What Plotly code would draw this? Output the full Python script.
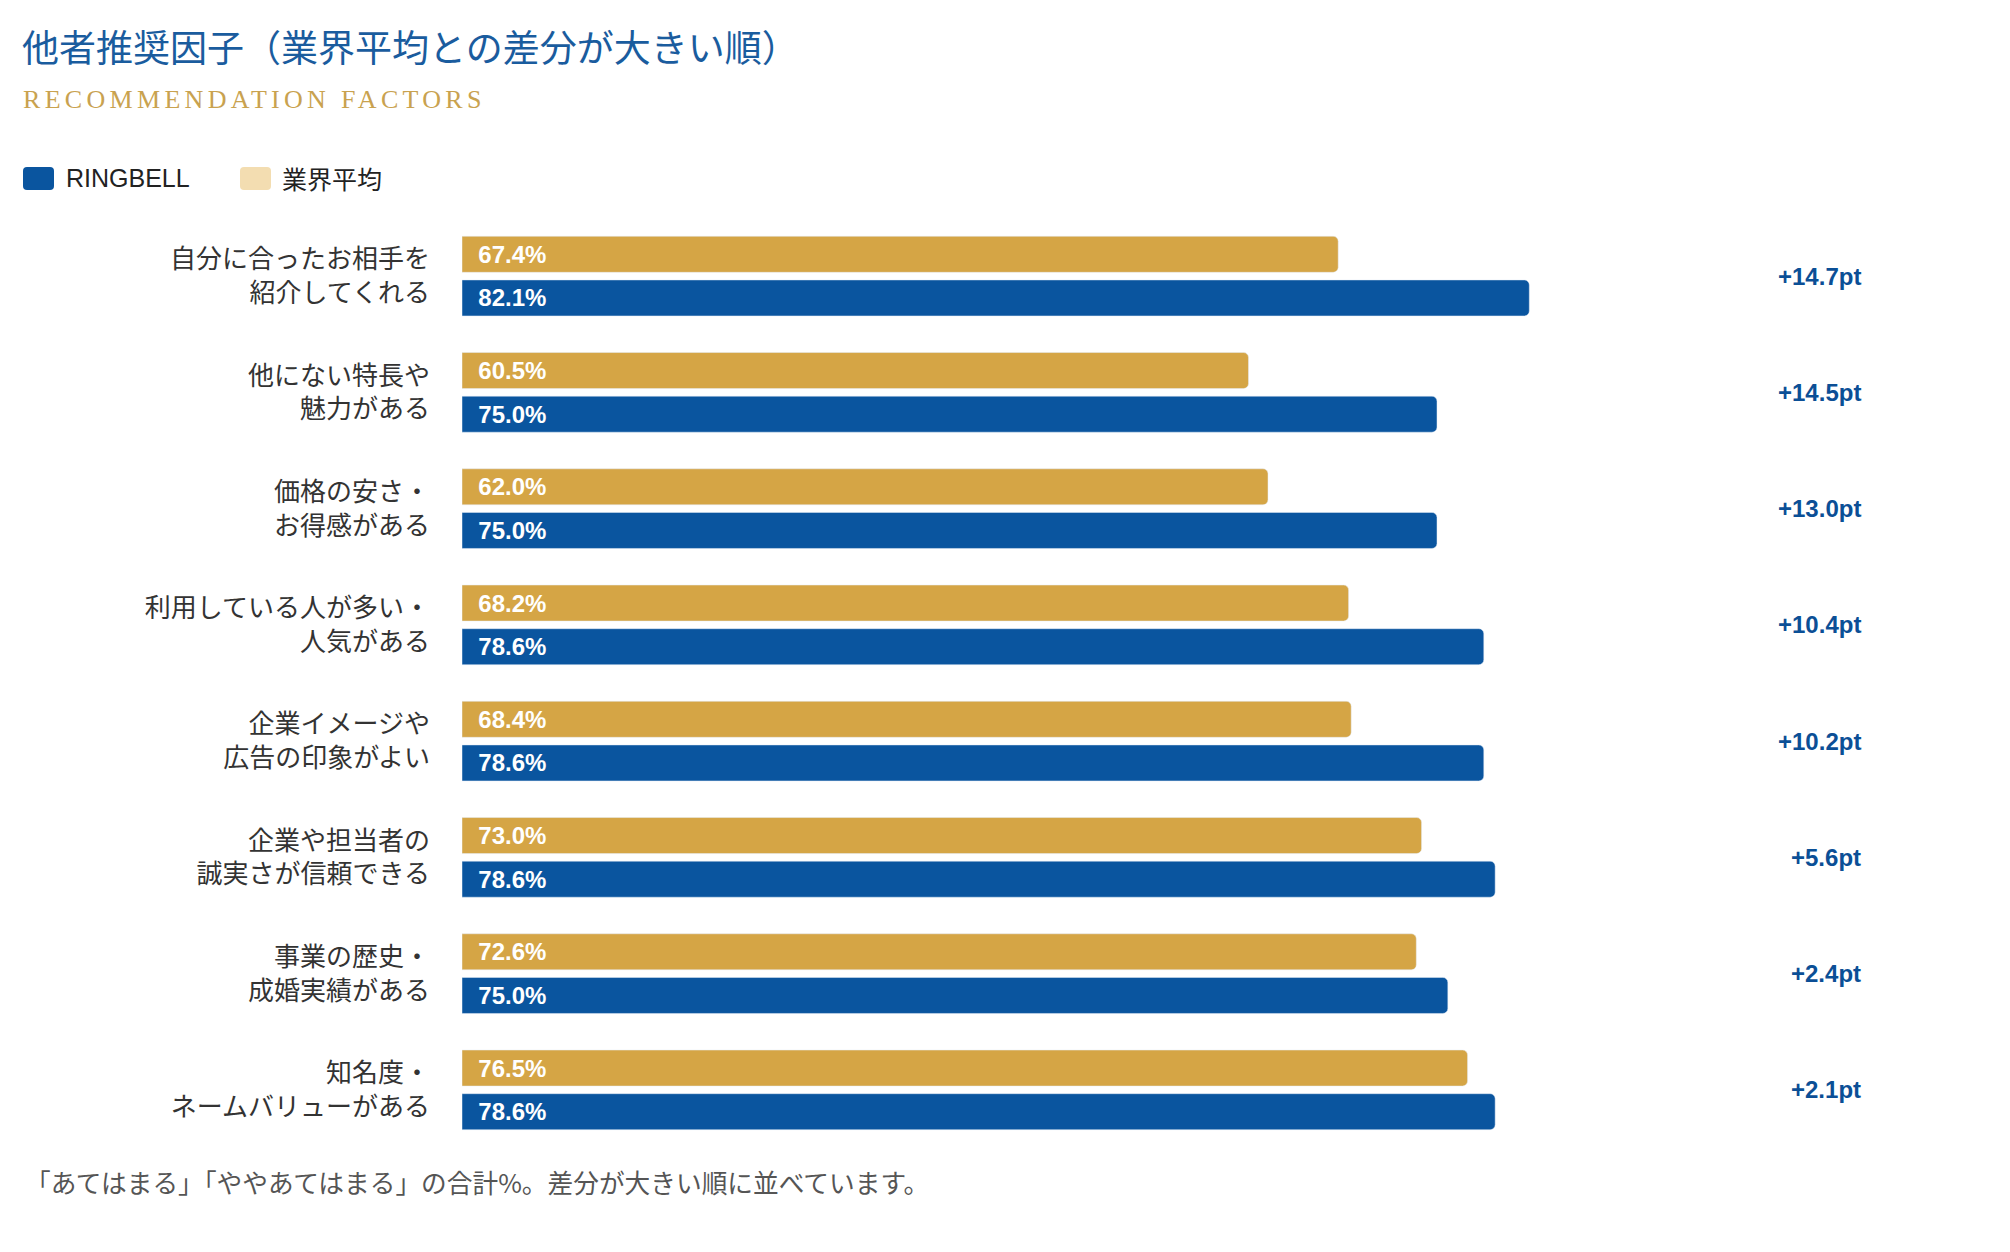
import plotly.graph_objects as go

# ---------------- data ----------------
categories = [
    "自分に合ったお相手を<br>紹介してくれる",
    "他にない特長や<br>魅力がある",
    "価格の安さ・<br>お得感がある",
    "利用している人が多い・<br>人気がある",
    "企業イメージや<br>広告の印象がよい",
    "企業や担当者の<br>誠実さが信頼できる",
    "事業の歴史・<br>成婚実績がある",
    "知名度・<br>ネームバリューがある",
]
industry_avg = [67.4, 60.5, 62.0, 68.2, 68.4, 73.0, 72.6, 76.5]
ringbell = [82.1, 75.0, 75.0, 78.6, 78.6, 78.6, 75.0, 78.6]
diff_labels = ["+14.7pt", "+14.5pt", "+13.0pt", "+10.4pt", "+10.2pt", "+5.6pt", "+2.4pt", "+2.1pt"]
series_names = ["RINGBELL", "業界平均"]

title_text = "他者推奨因子（業界平均との差分が大きい順）"
subtitle_text = "RECOMMENDATION FACTORS"
footer_text = "「あてはまる」「ややあてはまる」の合計%。差分が大きい順に並べています。"

# ---------------- styles ----------------
BLUE = "#0A559F"
GOLD = "#D5A545"
GOLD_LIGHT = "#F3DDB1"
JP = "Noto Sans CJK JP"
LAT = "Liberation Sans, Arial, sans-serif"

W, H = 1994, 1236
L, T = 454, 210
PW, PH = 1300, 930
R, B = W - L - PW, H - T - PH
# rows whose difference label is shorter get a slightly wider bar track (as in the original layout)
SHORT_TRACK_RANGE = 98.9


def px(xp):
    return (xp - L) / PW


def py(yp):
    return (H - B - yp) / PH


def rounded_rect(x0p, x1p, y0p, y1p, r):
    x0, x1 = px(x0p), px(x1p)
    yt, yb = py(y0p), py(y1p)
    rx, ry = r / PW, r / PH
    return (f"M {x0+rx},{yt} L {x1-rx},{yt} Q {x1},{yt} {x1},{yt-ry} "
            f"L {x1},{yb+ry} Q {x1},{yb} {x1-rx},{yb} L {x0+rx},{yb} "
            f"Q {x0},{yb} {x0},{yb+ry} L {x0},{yt-ry} Q {x0},{yt} {x0+rx},{yt} Z")


maxlen = max(len(d) for d in diff_labels)
groups = [
    ("x", [i for i, d in enumerate(diff_labels) if len(d) == maxlen]),
    ("x2", [i for i, d in enumerate(diff_labels) if len(d) < maxlen]),
]

fig = go.Figure()
for axis, idx in groups:
    for name, vals, color in ((series_names[1], industry_avg, GOLD), (series_names[0], ringbell, BLUE)):
        fig.add_trace(go.Bar(
            y=[categories[i] for i in idx], x=[vals[i] for i in idx],
            orientation="h", name=name, xaxis=axis, yaxis="y",
            marker=dict(color=color, cornerradius=5),
            texttemplate="\u00a0\u00a0<b>%{x:.1f}%</b>", textposition="inside",
            insidetextanchor="start", constraintext="none",
            textfont=dict(family=LAT, size=24, color="white"),
            showlegend=False, hoverinfo="skip",
        ))

annotations = []
for cat, d in zip(categories, diff_labels):
    annotations.append(dict(
        x=px(1855), xref="paper", y=cat, yref="y", text="<b>%s</b>" % d,
        showarrow=False, xanchor="right", yanchor="middle",
        font=dict(family=LAT, size=24, color="#0B4F96"),
    ))

annotations += [
    dict(x=px(12), y=py(38), xref="paper", yref="paper", text=title_text,
         showarrow=False, xanchor="left", yanchor="middle",
         font=dict(family=JP, size=37, color="#1A5C9E")),
    dict(x=px(13), y=py(91), xref="paper", yref="paper", text=subtitle_text,
         showarrow=False, xanchor="left", yanchor="middle",
         font=dict(family="Liberation Serif, DejaVu Serif, serif", size=26, color="#C9A24F")),
    dict(x=px(56), y=py(170), xref="paper", yref="paper", text=series_names[0],
         showarrow=False, xanchor="left", yanchor="middle",
         font=dict(family=LAT, size=25, color="#222222")),
    dict(x=px(272), y=py(170), xref="paper", yref="paper", text=series_names[1],
         showarrow=False, xanchor="left", yanchor="middle",
         font=dict(family=JP, size=25, color="#222222")),
    dict(x=px(15), y=py(1173), xref="paper", yref="paper", text=footer_text,
         showarrow=False, xanchor="left", yanchor="middle",
         font=dict(family=JP, size=25.7, color="#555555")),
]

shapes = [
    dict(type="path", xref="paper", yref="paper", path=rounded_rect(15, 46, 159, 182, 4),
         fillcolor=BLUE, line=dict(width=0)),
    dict(type="path", xref="paper", yref="paper", path=rounded_rect(232, 263, 159, 182, 4),
         fillcolor=GOLD_LIGHT, line=dict(width=0)),
]

fig.update_layout(
    width=W, height=H, margin=dict(l=L, r=R, t=T, b=B),
    paper_bgcolor="white", plot_bgcolor="white",
    barmode="group", bargap=0.249, bargroupgap=0.175,
    xaxis=dict(range=[0, 100], visible=False, fixedrange=True),
    xaxis2=dict(range=[0, SHORT_TRACK_RANGE], visible=False, fixedrange=True,
                overlaying="x", side="bottom"),
    yaxis=dict(type="category", categoryorder="array", categoryarray=categories,
               autorange="reversed", showgrid=False, zeroline=False, showline=False,
               ticks="", ticklabelstandoff=31,
               tickfont=dict(family=JP, size=26, color="#333333")),
    annotations=annotations, shapes=shapes,
    showlegend=False,
)

post = (
    "document.querySelectorAll('.annotation-text').forEach(function(t){"
    "if(t.textContent==='RECOMMENDATION FACTORS'){"
    "var b0=t.getBBox();t.style.letterSpacing='4.3px';var b1=t.getBBox();"
    "t.setAttribute('x',parseFloat(t.getAttribute('x')||0)+(b0.x-b1.x));}});"
)
fig.write_html("out.html", post_script=post)
